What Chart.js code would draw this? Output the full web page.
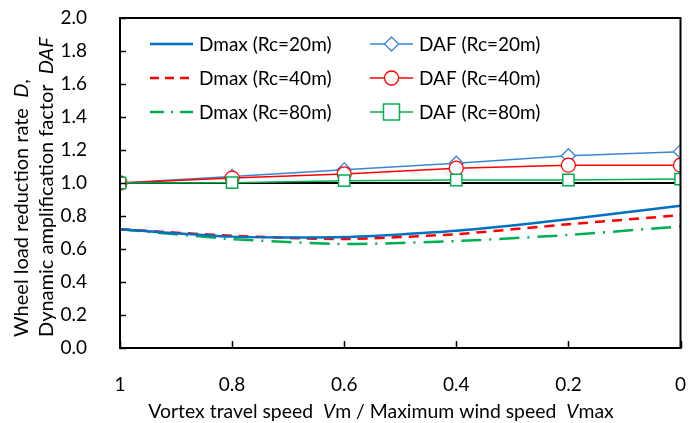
<!DOCTYPE html>
<html>
<head>
<meta charset="utf-8">
<script src="https://cdn.jsdelivr.net/npm/chart.js@4/dist/chart.umd.min.js"></script>
<style>
html,body{margin:0;padding:0;background:#fff;}
#wrap{width:690px;height:423px;position:relative;}
</style>
</head>
<body>
<div id="wrap"><canvas id="c" width="690" height="423"></canvas></div>
<script>
// ---- data ----
const speedRatio = [1, 0.8, 0.6, 0.4, 0.2, 0];
const dmax20 = [0.72, 0.675, 0.672, 0.71, 0.78, 0.862];
const dmax40 = [0.72, 0.68, 0.66, 0.69, 0.75, 0.805];
const dmax80 = [0.72, 0.66, 0.63, 0.648, 0.685, 0.737];
const daf20 = [1.0, 1.04, 1.08, 1.12, 1.165, 1.19];
const daf40 = [1.0, 1.03, 1.055, 1.09, 1.108, 1.108];
const daf80 = [1.0, 1.002, 1.014, 1.018, 1.018, 1.024];
const refX = [1, 0];
const refY = [1, 1];
const yTicks = [0, 0.2, 0.4, 0.6, 0.8, 1.0, 1.2, 1.4, 1.6, 1.8, 2.0];
const xTicks = [1, 0.8, 0.6, 0.4, 0.2, 0];
const legendLabels = ['Dmax (Rc=20m)', 'DAF (Rc=20m)', 'Dmax (Rc=40m)', 'DAF (Rc=40m)', 'Dmax (Rc=80m)', 'DAF (Rc=80m)'];

const FONT = 'Lato, "Liberation Sans", sans-serif';
const FS = 19;
const BLUE = '#0070C0', BLUE2 = '#3B86D0', RED = '#FF0000', GREEN = '#00B050';

const pts = (xs, ys) => xs.map((x, i) => ({x: x, y: ys[i]}));

const datasets = [
  {label: legendLabels[0], data: pts(speedRatio, dmax20), borderColor: BLUE, borderWidth: 2.5, pointRadius: 0, tension: 0.2, order: 3},
  {label: legendLabels[1], data: pts(speedRatio, daf20), borderColor: BLUE2, borderWidth: 1.5, pointStyle: 'rectRot', pointRadius: 7, pointBackgroundColor: '#fff', pointBorderColor: BLUE2, pointBorderWidth: 1.3, order: 2},
  {label: legendLabels[2], data: pts(speedRatio, dmax40), borderColor: RED, borderWidth: 2.5, borderDash: [10, 7], pointRadius: 0, tension: 0.2, order: 4},
  {label: legendLabels[3], data: pts(speedRatio, daf40), borderColor: RED, borderWidth: 1.5, pointStyle: 'circle', pointRadius: 7, pointBackgroundColor: '#fff', pointBorderColor: RED, pointBorderWidth: 1.3, order: 1},
  {label: legendLabels[4], data: pts(speedRatio, dmax80), borderColor: GREEN, borderWidth: 2.5, borderDash: [20, 8, 2, 8], pointRadius: 0, tension: 0.2, order: 5},
  {label: legendLabels[5], data: pts(speedRatio, daf80), borderColor: GREEN, borderWidth: 1.5, pointStyle: 'rect', pointRadius: 8, pointBackgroundColor: '#fff', pointBorderColor: GREEN, pointBorderWidth: 1.5, order: 0},
  {label: 'ref', data: pts(refX, refY), borderColor: '#000', borderWidth: 2, pointRadius: 0, order: 10}
];

function drawMixed(ctx, parts, x, y, fs) {
  let cx = x;
  for (const p of parts) {
    ctx.font = (p.i ? 'italic ' : '') + fs + 'px ' + FONT;
    ctx.fillText(p.t, cx, y);
    cx += ctx.measureText(p.t).width;
  }
  return cx - x;
}
function measureMixed(ctx, parts, fs) {
  let w = 0;
  for (const p of parts) {
    ctx.font = (p.i ? 'italic ' : '') + fs + 'px ' + FONT;
    w += ctx.measureText(p.t).width;
  }
  return w;
}

const decor = {
  id: 'decor',
  afterDatasetsDraw(chart) {
    const ctx = chart.ctx, a = chart.chartArea;
    const xs = chart.scales.x, ys = chart.scales.y;
    ctx.save();
    // frame
    ctx.strokeStyle = '#000';
    ctx.lineWidth = 2;
    ctx.strokeRect(a.left, a.top, a.right - a.left, a.bottom - a.top);
    // inside ticks
    ctx.lineWidth = 1.5;
    ctx.beginPath();
    for (const v of yTicks) {
      const py = Math.round(ys.getPixelForValue(v)) + 0.5;
      ctx.moveTo(a.left, py); ctx.lineTo(a.left + 6, py);
    }
    for (const v of xTicks) {
      const px = Math.round(xs.getPixelForValue(v)) + 0.5;
      ctx.moveTo(px, a.bottom); ctx.lineTo(px, a.bottom - 7);
    }
    ctx.stroke();

    // legend
    ctx.textBaseline = 'middle';
    ctx.textAlign = 'left';
    const rows = [44, 78, 112];
    const cols = [{l: 150, r: 193, t: 199}, {l: 370, r: 413, t: 419}];
    const ds = chart.data.datasets;
    for (let i = 0; i < 6; i++) {
      const d = ds[i];
      const c = cols[i % 2], y = rows[Math.floor(i / 2)];
      ctx.save();
      ctx.strokeStyle = d.borderColor;
      ctx.lineWidth = d.borderWidth;
      ctx.setLineDash(d.borderDash ? (i === 4 ? [14, 7, 2, 7] : [9, 6]) : []);
      ctx.beginPath(); ctx.moveTo(c.l, y); ctx.lineTo(c.r, y); ctx.stroke();
      ctx.setLineDash([]);
      if (d.pointRadius) {
        const mx = (c.l + c.r) / 2;
        ctx.fillStyle = '#fff';
        ctx.lineWidth = d.pointBorderWidth;
        ctx.beginPath();
        if (d.pointStyle === 'rectRot') {
          const r = 7;
          ctx.moveTo(mx, y - r); ctx.lineTo(mx + r, y); ctx.lineTo(mx, y + r); ctx.lineTo(mx - r, y); ctx.closePath();
        } else if (d.pointStyle === 'circle') {
          ctx.arc(mx, y, 7, 0, Math.PI * 2);
        } else {
          ctx.rect(mx - 8, y - 8, 16, 16);
        }
        ctx.fill(); ctx.stroke();
      }
      ctx.restore();
      ctx.fillStyle = '#000';
      ctx.font = FS + 'px ' + FONT;
      ctx.fillText(legendLabels[i], c.t, y + 1);
    }

    // x title
    ctx.fillStyle = '#000';
    const xt = [{t: 'Vortex travel speed  '}, {t: 'V', i: 1}, {t: 'm / Maximum wind speed  '}, {t: 'V', i: 1}, {t: 'max'}];
    const w = measureMixed(ctx, xt, 19.4);
    drawMixed(ctx, xt, 381 - w / 2, 412, 19.4);

    // y title
    const y1 = [{t: 'Wheel load reduction rate  '}, {t: 'D', i: 1}, {t: ','}];
    const y2 = [{t: 'Dynamic amplification factor  '}, {t: 'DAF', i: 1}];
    ctx.save();
    ctx.translate(22, 337);
    ctx.rotate(-Math.PI / 2);
    drawMixed(ctx, y1, 0, 0, 20);
    ctx.restore();
    ctx.save();
    ctx.translate(47, 337);
    ctx.rotate(-Math.PI / 2);
    drawMixed(ctx, y2, 0, 0, 20);
    ctx.restore();
    ctx.restore();
  }
};

function zeroPad(s) { s.paddingTop = 0; s.paddingBottom = 0; s.paddingLeft = 0; s.paddingRight = 0; }

new Chart(document.getElementById('c'), {
  type: 'line',
  data: {datasets: datasets},
  options: {
    responsive: false,
    animation: false,
    devicePixelRatio: 1,
    layout: {padding: {left: 0, right: 9, top: 18, bottom: 0}},
    plugins: {legend: {display: false}, tooltip: {enabled: false}},
    scales: {
      x: {
        type: 'linear', reverse: true, min: 0, max: 1,
        afterBuildTicks: s => { s.ticks = xTicks.map(v => ({value: v})); },
        afterFit: s => { s.height = 75; zeroPad(s); },
        grid: {display: false},
        border: {display: false},
        ticks: {color: '#000', font: {family: FONT, size: FS}, padding: 17, maxRotation: 0,
          callback: v => String(v)}
      },
      y: {
        min: 0, max: 2,
        afterBuildTicks: s => { s.ticks = yTicks.map(v => ({value: v})); },
        afterFit: s => { s.width = 120; zeroPad(s); },
        grid: {display: false},
        border: {display: false},
        ticks: {color: '#000', font: {family: FONT, size: FS}, padding: 25,
          callback: v => Number(v).toFixed(1)}
      }
    }
  },
  plugins: [decor]
});
</script>
</body>
</html>
